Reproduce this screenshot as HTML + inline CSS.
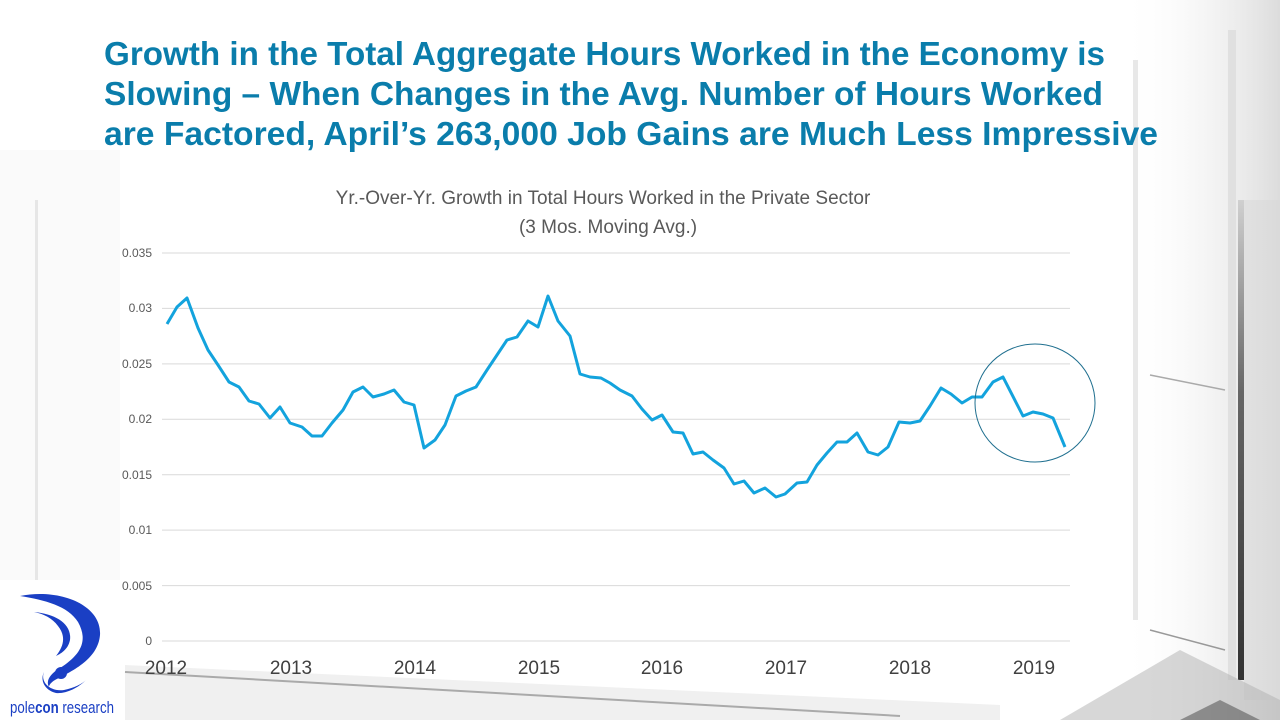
<!DOCTYPE html>
<html><head><meta charset="utf-8"><style>
html,body{margin:0;padding:0;background:#fff;}
svg{display:block;}
</style></head><body>
<svg width="1280" height="720" viewBox="0 0 1280 720" xmlns="http://www.w3.org/2000/svg">
<defs>
<linearGradient id="rg" x1="0" y1="0" x2="1" y2="0">
<stop offset="0" stop-color="#ffffff" stop-opacity="0"/>
<stop offset="1" stop-color="#dcdcdc"/>
</linearGradient>
<linearGradient id="bar" x1="0" y1="0" x2="0" y2="1">
<stop offset="0" stop-color="#d0d0d0"/>
<stop offset="0.4" stop-color="#666"/>
<stop offset="1" stop-color="#333"/>
</linearGradient>
</defs>
<rect width="1280" height="720" fill="#fff"/>
<rect x="1120" y="0" width="160" height="720" fill="url(#rg)"/>
<rect x="1133" y="60" width="5" height="560" fill="#e8e8e8"/>
<rect x="1228" y="30" width="8" height="650" fill="#e0e0e0"/>
<rect x="1238" y="200" width="6" height="480" fill="url(#bar)"/>
<rect x="1244" y="200" width="36" height="500" fill="#d8d8d8" opacity="0.5"/>
<line x1="1150" y1="375" x2="1225" y2="390" stroke="#aaa" stroke-width="1.5"/>
<line x1="1150" y1="630" x2="1225" y2="650" stroke="#999" stroke-width="1.5"/>
<polygon points="1060,720 1180,650 1280,700 1280,720" fill="#b0b0b0" opacity="0.5"/>
<polygon points="1180,720 1220,700 1260,720" fill="#444" opacity="0.5"/>
<polygon points="125,665 1000,705 1000,720 125,720" fill="#f0f0f0"/>
<line x1="125" y1="672" x2="900" y2="716" stroke="#aaa" stroke-width="2"/>
<rect x="0" y="150" width="120" height="430" fill="#f6f6f6" opacity="0.6"/>
<rect x="35" y="200" width="3" height="380" fill="#e6e6e6"/>

<g font-family="'Liberation Sans Narrow','Liberation Sans',sans-serif" font-weight="bold" font-size="33" fill="#0a7dab">
<text x="104" y="65" textLength="1001" lengthAdjust="spacingAndGlyphs">Growth in the Total Aggregate Hours Worked in the Economy is</text>
<text x="104" y="105" textLength="999" lengthAdjust="spacingAndGlyphs">Slowing –  When Changes in the Avg. Number of Hours Worked</text>
<text x="104" y="145" textLength="1054" lengthAdjust="spacingAndGlyphs">are Factored, April’s 263,000 Job Gains are Much Less Impressive</text>
</g>

<g font-family="'Liberation Sans',sans-serif" font-size="19" fill="#595959" text-anchor="middle">
<text x="603" y="204">Yr.-Over-Yr. Growth in Total Hours Worked in the Private Sector</text>
<text x="608" y="233">(3 Mos. Moving Avg.)</text>
</g>

<g stroke="#d9d9d9" stroke-width="1">
<line x1="162" y1="253" x2="1070" y2="253"/>
<line x1="162" y1="308.4" x2="1070" y2="308.4"/>
<line x1="162" y1="363.9" x2="1070" y2="363.9"/>
<line x1="162" y1="419.3" x2="1070" y2="419.3"/>
<line x1="162" y1="474.7" x2="1070" y2="474.7"/>
<line x1="162" y1="530.1" x2="1070" y2="530.1"/>
<line x1="162" y1="585.6" x2="1070" y2="585.6"/>
<line x1="162" y1="641" x2="1070" y2="641"/>
</g>
<g font-family="'Liberation Sans',sans-serif" font-size="12" fill="#595959" text-anchor="end">
<text x="152" y="257">0.035</text>
<text x="152" y="312">0.03</text>
<text x="152" y="368">0.025</text>
<text x="152" y="423">0.02</text>
<text x="152" y="479">0.015</text>
<text x="152" y="534">0.01</text>
<text x="152" y="590">0.005</text>
<text x="152" y="645">0</text>
</g>
<g font-family="'Liberation Sans',sans-serif" font-size="19" fill="#404040" text-anchor="middle">
<text x="166" y="674">2012</text>
<text x="291" y="674">2013</text>
<text x="415" y="674">2014</text>
<text x="539" y="674">2015</text>
<text x="662" y="674">2016</text>
<text x="786" y="674">2017</text>
<text x="910" y="674">2018</text>
<text x="1034" y="674">2019</text>
</g>

<polyline fill="none" stroke="#13a3dd" stroke-width="3" stroke-linejoin="round" points="
167,324 177,307 187,298 198,328 208,350 218,365 229,382 239,387 249,401 259,404 270,418 280,407 290,423 302,427 312,436 322,436 332,423 343,410 353,392 363,387 373,397 384,394 394,390 404,402 414,405 424,448 435,440 445,425 456,396 466,391 476,387 487,370 497,355 507,340 517,337 528,321 538,327 548,296 558,321 570,336 580,374 590,377 601,378 610,383 620,390 632,396 642,409 652,420 662,415 673,432 683,433 693,454 703,452 713,460 724,468 734,484 744,481 754,493 765,488 776,497 785,494 797,483 807,482 817,465 827,453 837,442 847,442 857,433 868,452 878,455 888,447 899,422 910,423 920,421 930,406 941,388 951,394 962,403 972,397 982,397 993,382 1003,377 1023,416 1033,412 1043,414 1053,418 1065,447"/>
<ellipse cx="1035" cy="403" rx="60" ry="59" fill="none" stroke="#1f6f8f" stroke-width="1"/>

<rect x="0" y="592" width="118" height="128" fill="#fff"/>
<g fill="#1a3fc4">
<path d="M20,596 C60,588 102,605 100,635 C98,660 70,672 55,680 C48,684 47,690 52,690 C44,684 48,675 60,668 C82,654 88,640 78,622 C68,606 45,600 20,596 Z"/>
<path d="M34,612 C56,614 72,624 70,640 C68,650 60,654 56,656 C64,646 66,636 58,626 C52,618 44,614 34,612 Z"/>
<circle cx="61" cy="673" r="6"/>
<path d="M44,672 C40,682 50,692 64,690 C74,688 82,684 86,680 C78,688 66,694 56,693 C44,690 40,680 44,672 Z"/>
</g>
<text x="62" y="713" text-anchor="middle" font-family="'Liberation Sans Narrow','Liberation Sans',sans-serif" font-size="17" fill="#1a3fc4" textLength="104" lengthAdjust="spacingAndGlyphs">pole<tspan font-weight="bold">con</tspan> research</text>
</svg>
</body></html>
